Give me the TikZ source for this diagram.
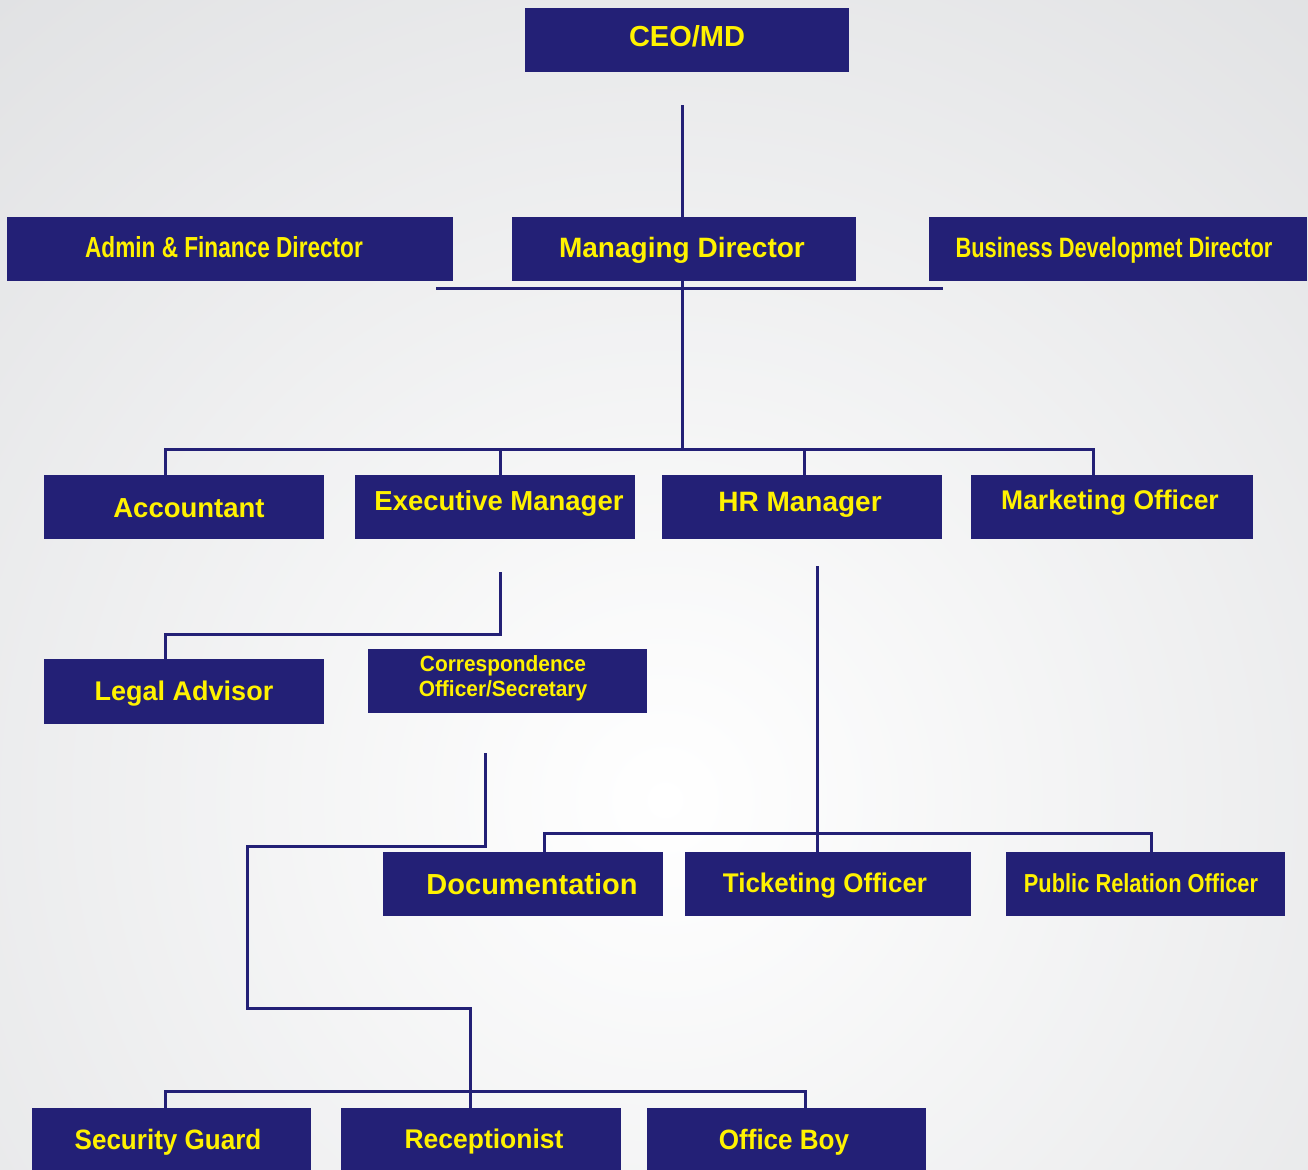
\documentclass[tikz,border=0pt]{standalone}
\usepackage{fontspec}
\setmainfont{Liberation Sans}
\usepackage{graphicx}
\definecolor{navy}{HTML}{232076}
\definecolor{ylw}{HTML}{FFF200}
\definecolor{bggray}{HTML}{DEDFE1}
\newcommand{\fs}[2]{\fontsize{#1}{#2}\selectfont}
\newcommand{\sx}[2]{\scalebox{#1}[1]{#2}}
\tikzset{
  box/.style={fill=navy, draw=none, inner sep=0pt},
  lbl/.style={text=ylw, inner sep=0pt, align=center, anchor=base},
  conn/.style={draw=navy, line width=3pt, line cap=rect, line join=miter}
}
\begin{document}
\begin{tikzpicture}[x=1pt,y=-1pt]
\useasboundingbox (0,0) rectangle (1308,1169);
\begin{scope}
\clip (0,0) rectangle (1308,1169);
\fill[bggray] (0,0) rectangle (1308,1169);
\shade[inner color=white, outer color=bggray] (665,800) circle (1150);
\end{scope}

% boxes
\node[box, minimum width=324pt, minimum height=64pt] (ceo) at (687,40) {};
\node[box, minimum width=446pt, minimum height=64pt] (afd) at (230,249) {};
\node[box, minimum width=344pt, minimum height=64pt] (md) at (684,249) {};
\node[box, minimum width=378pt, minimum height=64pt] (bdd) at (1118,249) {};
\node[box, minimum width=280pt, minimum height=64pt] (acc) at (184,507) {};
\node[box, minimum width=280pt, minimum height=64pt] (em) at (495,507) {};
\node[box, minimum width=280pt, minimum height=64pt] (hr) at (802,507) {};
\node[box, minimum width=282pt, minimum height=64pt] (mo) at (1112,507) {};
\node[box, minimum width=280pt, minimum height=65pt] (la) at (184,691.5) {};
\node[box, minimum width=279pt, minimum height=64pt] (cos) at (507.5,681) {};
\node[box, minimum width=280pt, minimum height=64pt] (doc) at (523,884) {};
\node[box, minimum width=286pt, minimum height=64pt] (to) at (828,884) {};
\node[box, minimum width=279pt, minimum height=64pt] (pro) at (1145.5,884) {};
\node[box, minimum width=279pt, minimum height=64pt, anchor=north] (sg) at (171.5,1108) {};
\node[box, minimum width=280pt, minimum height=64pt, anchor=north] (rec) at (481,1108) {};
\node[box, minimum width=279pt, minimum height=64pt, anchor=north] (ob) at (786.5,1108) {};

% labels (base anchored)
\node[lbl, font=\bfseries\fs{29}{29}] (ceo-t) at (687,46.4) {CEO/MD};
\node[lbl, font=\bfseries\fs{28}{28}] (md-t) at (682,257.1) {Managing\ Director};
\node[lbl, font=\bfseries\fs{29}{29}] (afd-t) at (224,257.4) {\sx{0.78}{Admin \& Finance Director}};
\node[lbl, font=\bfseries\fs{28}{28}] (bdd-t) at (1114,257.1) {\sx{0.78}{Business Developmet Director}};
\node[lbl, font=\bfseries\fs{27.5}{27.5}] (acc-t) at (189,517.9) {Accountant};
\node[lbl, font=\bfseries\fs{27.5}{27.5}] (em-t) at (499,510.9) {Executive\ Manager};
\node[lbl, font=\bfseries\fs{28}{28}] (hr-t) at (800,511.1) {HR Manager};
\node[lbl, font=\bfseries\fs{27}{27}] (mo-t) at (1110,509.7) {\sx{0.98}{Marketing Officer}};
\node[lbl, font=\bfseries\fs{27}{27}] (la-t) at (184,700.7) {Legal\ Advisor};
\node[text=ylw, inner sep=0pt, align=center, font=\bfseries\fs{22}{25}] (cos-t) at (503,678) {\sx{0.95}{Correspondence}\\\sx{0.95}{Officer/Secretary}};
\node[lbl, font=\bfseries\fs{29}{29}] (doc-t) at (532,894.4) {Documentation};
\node[lbl, font=\bfseries\fs{27}{27}] (to-t) at (825,892.7) {\sx{0.96}{Ticketing\ Officer}};
\node[lbl, font=\bfseries\fs{26}{26}] (pro-t) at (1141,892.4) {\sx{0.84}{Public Relation Officer}};
\node[lbl, font=\bfseries\fs{28}{28}] (sg-t) at (168,1149.1) {\sx{0.93}{Security Guard}};
\node[lbl, font=\bfseries\fs{27}{27}] (rec-t) at (484,1148.7) {\sx{0.98}{Receptionist}};
\node[lbl, font=\bfseries\fs{28}{28}] (ob-t) at (784,1149.1) {\sx{0.93}{Office\ Boy}};

% free-end coordinates
\coordinate (ceo-s) at (682,107);
\coordinate (bar1l) at (437,288);
\coordinate (bar1r) at (941,288);
\coordinate (em-s) at (500,573);
\coordinate (hr-s) at (817,567);
\coordinate (cos-s) at (485,754);

% connectors
\draw[conn] (ceo-s) -- (md.north -| ceo-s);
\draw[conn] (bar1l) -- (bar1r);
\draw[conn] (md.south -| ceo-s) -- (682,449);
\draw[conn] (acc.north -| 165,0) |- (682,449) -| (mo.north -| 1093,0);
\draw[conn] (em.north -| 500,0) -- (500,449);
\draw[conn] (hr.north -| 804,0) -- (804,449);
\draw[conn] (em-s) -- (500,634) -| (la.north -| 165,0);
\draw[conn] (hr-s) -- (to.north -| hr-s);
\draw[conn] (doc.north -| 544,0) |- (817,833) -| (pro.north -| 1151,0);
\draw[conn] (cos-s) -- (485,846) -| (247,1008) -| (rec.north -| 470,0);
\draw[conn] (sg.north -| 165,0) |- (805,1091) -- (ob.north -| 805,0);
\end{tikzpicture}
\end{document}
